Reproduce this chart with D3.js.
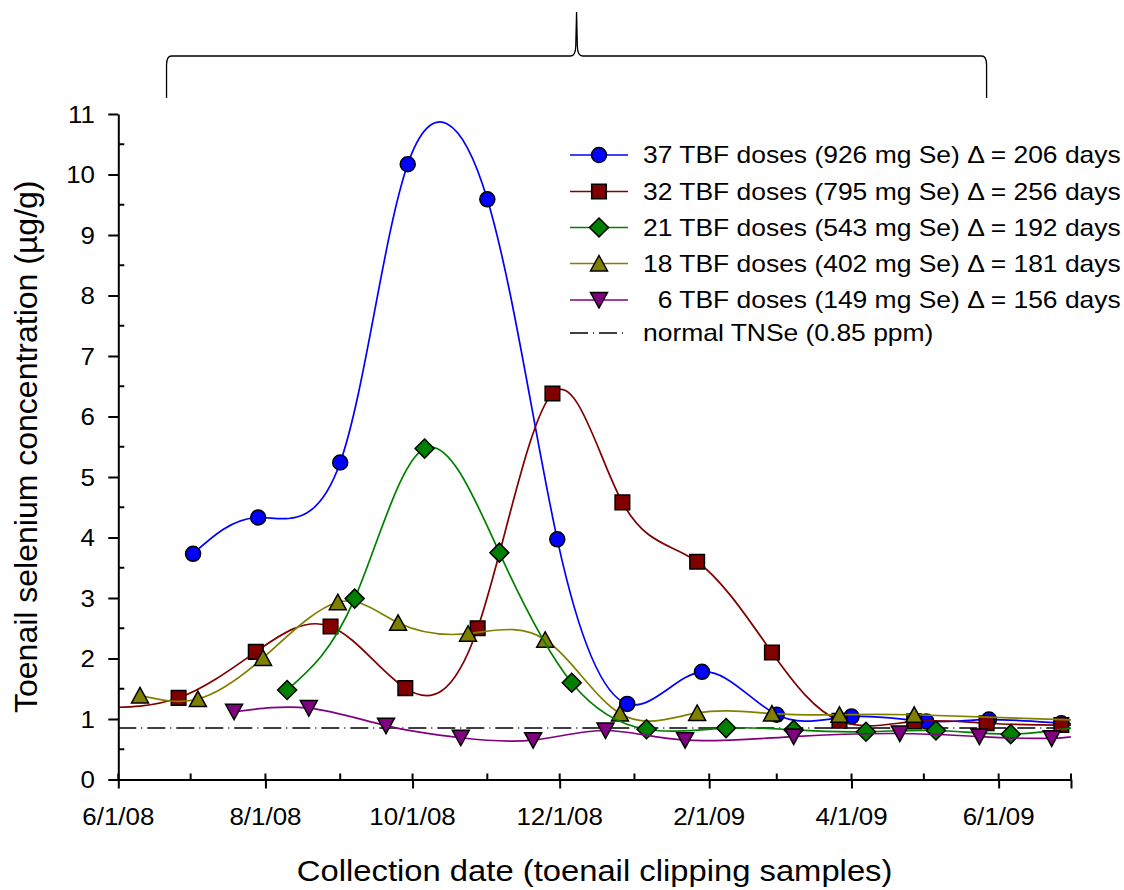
<!DOCTYPE html>
<html>
<head>
<meta charset="utf-8">
<script src="https://cdn.jsdelivr.net/npm/d3@7"></script>
<style>
  html, body { margin: 0; padding: 0; background: #ffffff; }
  svg { display: block; }
  text { font-family: "Liberation Sans", Arial, sans-serif; fill: #000; white-space: pre; }
</style>
</head>
<body>
<svg id="chart" width="1124" height="890"></svg>
<script>
// ---------------- data ----------------
const blueDates   = ["2008-07-02","2008-07-29","2008-09-01","2008-09-29","2008-11-01","2008-11-30","2008-12-29","2009-01-29","2009-03-01","2009-04-01","2009-05-02","2009-05-28","2009-06-27","2009-07-06"];
const blueValues  = [3.73,4.33,5.24,10.17,9.59,3.97,1.25,1.78,1.07,1.04,0.96,0.99,0.93,0.93];

const redDates    = ["2008-05-25","2008-06-26","2008-07-28","2008-08-28","2008-09-28","2008-10-28","2008-11-28","2008-12-27","2009-01-27","2009-02-27","2009-03-27","2009-04-27","2009-05-27","2009-06-27","2009-07-06"];
const redValues   = [1.19,1.35,2.11,2.53,1.51,2.50,6.38,4.58,3.60,2.10,0.97,0.96,0.93,0.90,0.90];

const greenDates  = ["2008-08-10","2008-09-07","2008-10-06","2008-11-06","2008-12-06","2009-01-06","2009-02-08","2009-03-08","2009-04-07","2009-05-06","2009-06-06","2009-07-06"];
const greenValues = [1.48,2.99,5.47,3.75,1.60,0.83,0.85,0.82,0.79,0.81,0.75,0.88];

const oliveDates  = ["2008-06-10","2008-07-04","2008-07-31","2008-08-31","2008-09-25","2008-10-24","2008-11-25","2008-12-26","2009-01-27","2009-02-27","2009-03-27","2009-04-27","2009-07-06"];
const oliveValues = [1.39,1.33,2.01,2.93,2.59,2.41,2.31,1.09,1.10,1.09,1.07,1.07,0.98];

const purpleDates = ["2008-07-19","2008-08-19","2008-09-20","2008-10-21","2008-11-20","2008-12-20","2009-01-22","2009-03-08","2009-04-21","2009-05-24","2009-06-23","2009-07-06"];
const purpleValues= [1.12,1.18,0.89,0.69,0.65,0.81,0.65,0.71,0.76,0.71,0.68,0.74];

const normalTNSe = 0.85;

const seriesLabels = [
  "37 TBF doses (926 mg Se) \u0394 = 206 days",
  "32 TBF doses (795 mg Se) \u0394 = 256 days",
  "21 TBF doses (543 mg Se) \u0394 = 192 days",
  "18 TBF doses (402 mg Se) \u0394 = 181 days",
  "  6 TBF doses (149 mg Se) \u0394 = 156 days"
];
const normalLabel = "normal TNSe (0.85 ppm)";

const xDomainDates = ["2008-06-01","2009-07-01"];
const xLabelDates  = ["2008-06-01","2008-08-01","2008-10-01","2008-12-01","2009-02-01","2009-04-01","2009-06-01"];
const xTickLabels  = ["6/1/08","8/1/08","10/1/08","12/1/08","2/1/09","4/1/09","6/1/09"];
const yTickValues  = [0,1,2,3,4,5,6,7,8,9,10,11];
const yTickLabels  = ["0","1","2","3","4","5","6","7","8","9","10","11"];
const braceDates   = ["2008-06-21","2009-05-27"];

const xTitle = "Collection date (toenail clipping samples)";
const yTitle = "Toenail selenium concentration (\u00b5g/g)";

// ---------------- setup ----------------
const parse = s => new Date(s + "T00:00:00Z");
const svg = d3.select("#chart");

const x = d3.scaleUtc().domain(xDomainDates.map(parse)).range([118.3, 1071]);
const y = d3.scaleLinear().domain([0, 11]).range([779.5, 114]);

const colors = ["#0000ff", "#800000", "#008000", "#808000", "#800080"];
const shapes = ["circle", "square", "diamond", "triUp", "triDown"];

const series = [
  { dates: blueDates,   values: blueValues,   i: 0 },
  { dates: redDates,    values: redValues,    i: 1 },
  { dates: greenDates,  values: greenValues,  i: 2 },
  { dates: oliveDates,  values: oliveValues,  i: 3 },
  { dates: purpleDates, values: purpleValues, i: 4 }
];

function markerPath(shape) {
  switch (shape) {
    case "circle":  return "M7.5,0 A7.5,7.5 0 1,1 -7.5,0 A7.5,7.5 0 1,1 7.5,0 Z";
    case "square":  return "M-7.3,-7.3 L7.3,-7.3 L7.3,7.3 L-7.3,7.3 Z";
    case "diamond": return "M0,-9.5 L9.5,0 L0,9.5 L-9.5,0 Z";
    case "triUp":   return "M0,-8 L8.5,7.5 L-8.5,7.5 Z";
    case "triDown": return "M0,8 L8.5,-7.5 L-8.5,-7.5 Z";
  }
}

function stext(parent, px, py, txt, size, sx, anchor, dy) {
  return parent.append("text")
    .attr("transform", `translate(${px},${py}) scale(${sx},1)`)
    .attr("text-anchor", anchor)
    .attr("dy", dy || 0)
    .attr("font-size", size)
    .text(txt);
}

// clip
svg.append("defs").append("clipPath").attr("id", "plotclip")
  .append("rect")
  .attr("x", x.range()[0]).attr("y", 0)
  .attr("width", x.range()[1] - x.range()[0])
  .attr("height", y(0));

// ---------------- brace ----------------
{
  const xl = x(parse(braceDates[0])), xr = x(parse(braceDates[1]));
  const xc = (xl + xr) / 2;
  const yb = 98, yh = 56, yt = 12;
  const p = `M${xl},${yb} L${xl},${yh+9} Q${xl},${yh} ${xl+5},${yh} L${xc-6},${yh} Q${xc-1},${yh} ${xc-0.8},${yh-10} L${xc},${yt}` +
            ` M${xc},${yt} L${xc+0.8},${yh-10} Q${xc+1},${yh} ${xc+6},${yh} L${xr-5},${yh} Q${xr},${yh} ${xr},${yh+9} L${xr},${yb}`;
  svg.append("path").attr("d", p).attr("fill", "none").attr("stroke", "#000").attr("stroke-width", 1.3);
}

// ---------------- normal line ----------------
svg.append("line")
  .attr("x1", x.range()[0]).attr("x2", x.range()[1])
  .attr("y1", y(normalTNSe)).attr("y2", y(normalTNSe))
  .attr("stroke", "#000").attr("stroke-width", 1.5)
  .attr("stroke-dasharray", "18,5,1,5");

// ---------------- series ----------------
const plot = svg.append("g").attr("clip-path", "url(#plotclip)");
const line = d3.line().x(d => x(d.date)).y(d => y(d.v)).curve(d3.curveNatural);
const drawOrder = [0, 1, 3, 2, 4];
drawOrder.forEach(k => {
  const s = series[k];
  const pts = s.dates.map((d, j) => ({ date: parse(d), v: s.values[j] }));
  plot.append("path").datum(pts).attr("d", line)
    .attr("fill", "none").attr("stroke", colors[s.i]).attr("stroke-width", 1.7);
  plot.selectAll(null).data(pts).enter().append("path")
    .attr("d", markerPath(shapes[s.i]))
    .attr("transform", d => `translate(${x(d.date)},${y(d.v)})`)
    .attr("fill", colors[s.i]).attr("stroke", "#000").attr("stroke-width", 1.5);
});

// ---------------- axes ----------------
const axisColor = "#000";
// y axis
const yAxis = svg.append("g").attr("transform", `translate(${x.range()[0]},0)`)
  .call(d3.axisLeft(y).tickValues(yTickValues).tickSize(10).tickSizeOuter(0).tickFormat(""));
yAxis.selectAll("path,line").attr("stroke", axisColor).attr("stroke-width", 2);
d3.range(0.5, 11, 1).forEach(v => {
  svg.append("line").attr("x1", x.range()[0]).attr("x2", x.range()[0] + 6)
    .attr("y1", y(v)).attr("y2", y(v)).attr("stroke", axisColor).attr("stroke-width", 2);
});
yTickValues.forEach((v, j) => {
  stext(svg, 95, y(v), yTickLabels[j], 24, 1.08, "end", "0.36em");
});

// x axis
const xAxis = svg.append("g").attr("transform", `translate(0,${y(0)})`)
  .call(d3.axisBottom(x).tickValues(xLabelDates.map(parse).concat([parse(xDomainDates[1])])).tickSize(9).tickSizeOuter(0).tickFormat(""));
xAxis.selectAll("path,line").attr("stroke", axisColor).attr("stroke-width", 2);
d3.utcMonth.range(parse(xDomainDates[0]), d3.utcDay.offset(parse(xDomainDates[1]), 1)).forEach(d => {
  svg.append("line").attr("x1", x(d)).attr("x2", x(d))
    .attr("y1", y(0)).attr("y2", y(0) - 6).attr("stroke", axisColor).attr("stroke-width", 2);
});
xLabelDates.forEach((d, j) => {
  stext(svg, x(parse(d)), 825, xTickLabels[j], 24, 1.08, "middle");
});

// titles
stext(svg, (x.range()[0] + x.range()[1]) / 2, 881, xTitle, 29, 1.13, "middle");
svg.append("text")
  .attr("transform", `translate(37,${(y(0) + y(11)) / 2}) rotate(-90)`)
  .attr("text-anchor", "middle")
  .attr("font-size", 32)
  .text(yTitle);

// ---------------- legend ----------------
const legX0 = 570, legX1 = 628, legMid = 599, legText = 643;
const legRows = [155, 191.5, 227.5, 263.5, 300, 333];
seriesLabels.forEach((lab, j) => {
  const ry = legRows[j];
  svg.append("line").attr("x1", legX0).attr("x2", legX1).attr("y1", ry).attr("y2", ry)
    .attr("stroke", colors[j]).attr("stroke-width", 1.7);
  svg.append("path").attr("d", markerPath(shapes[j]))
    .attr("transform", `translate(${legMid},${ry})`)
    .attr("fill", colors[j]).attr("stroke", "#000").attr("stroke-width", 1.5);
  stext(svg, legText, ry, lab, 23, 1.15, "start", "0.36em");
});
{
  const ry = legRows[5];
  svg.append("line").attr("x1", legX0).attr("x2", legX1).attr("y1", ry).attr("y2", ry)
    .attr("stroke", "#000").attr("stroke-width", 1.5).attr("stroke-dasharray", "18,5,1,5");
  stext(svg, legText, ry, normalLabel, 23, 1.15, "start", "0.36em");
}
</script>
</body>
</html>
